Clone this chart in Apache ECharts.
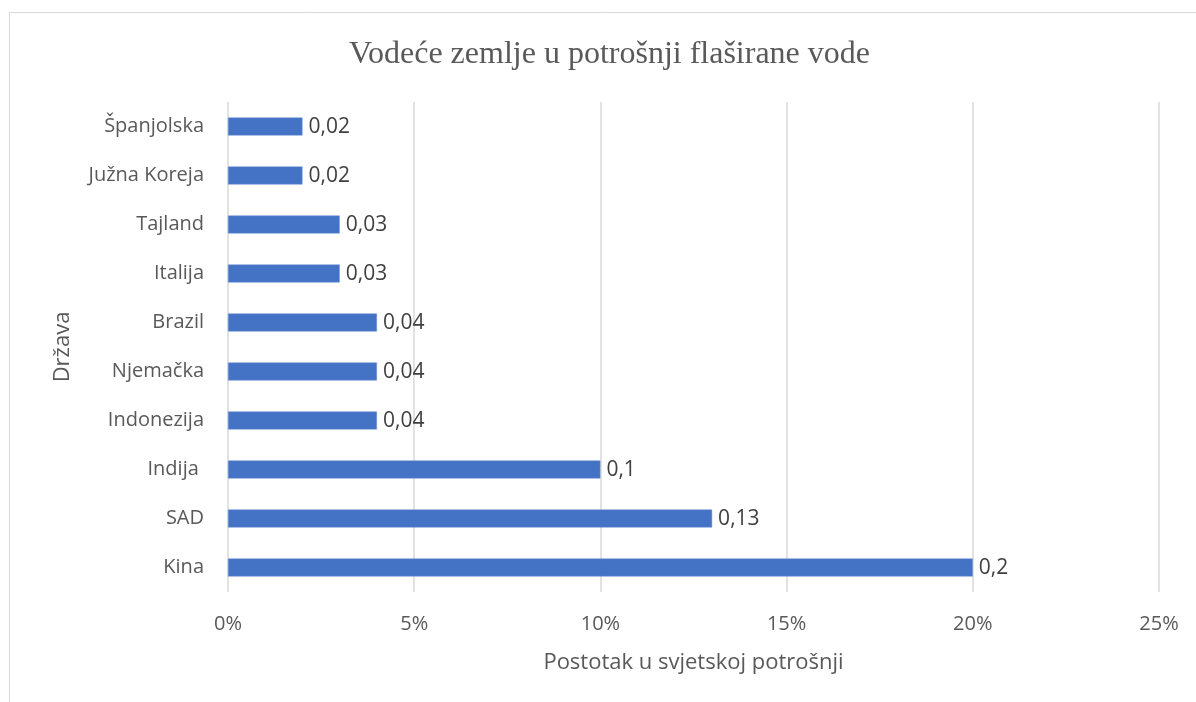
<!DOCTYPE html>
<html>
<head>
<meta charset="utf-8">
<script src="https://cdn.jsdelivr.net/npm/echarts@6/dist/echarts.min.js"></script>
<style>
  html, body { margin: 0; padding: 0; background: #fff; }
  #chart { width: 1196px; height: 702px; }
</style>
</head>
<body>
<div id="chart"></div>
<script>
// podaci s grafikona (odozdo prema gore)
var drzave = ['Kina', 'SAD', 'Indija ', 'Indonezija', 'Njemačka', 'Brazil', 'Italija', 'Tajland', 'Južna Koreja', 'Španjolska'];
var udio = [0.2, 0.13, 0.1, 0.04, 0.04, 0.04, 0.03, 0.03, 0.02, 0.02];

var font = '"Open Sans", sans-serif';
var myChart = echarts.init(document.getElementById('chart'));
var option;
option = {
  animation: false,
  graphic: [{
    type: 'rect',
    shape: { x: 9.5, y: 12.5, width: 1300, height: 800 },
    style: { fill: 'none', stroke: '#d9d9d9', lineWidth: 1 },
    silent: true
  }],
  title: {
    text: 'Vodeće zemlje u potrošnji flaširane vode',
    left: 344,
    top: 34,
    textStyle: {
      fontFamily: '"Liberation Serif", "Times New Roman", serif',
      fontSize: 32,
      fontWeight: 'normal',
      color: '#595959'
    }
  },
  grid: {
    left: 228,
    right: 37,
    top: 102,
    bottom: 110
  },
  xAxis: {
    type: 'value',
    min: 0,
    max: 0.25,
    interval: 0.05,
    name: 'Postotak u svjetskoj potrošnji',
    nameLocation: 'middle',
    nameGap: 60,
    nameTextStyle: { fontFamily: font, fontSize: 22, color: '#595959' },
    axisLine: { show: false },
    axisTick: { show: false },
    axisLabel: {
      margin: 22,
      fontFamily: font,
      fontSize: 20,
      color: '#595959',
      formatter: function (v) { return Math.round(v * 100) + '%'; }
    },
    splitLine: { show: true, lineStyle: { color: '#d9d9d9', width: 1.5 } }
  },
  yAxis: {
    type: 'category',
    data: drzave,
    name: 'Država',
    nameLocation: 'middle',
    nameGap: 154,
    nameRotate: 90,
    nameTextStyle: { fontFamily: font, fontSize: 22, color: '#595959' },
    axisLine: { show: false },
    axisTick: { show: false },
    axisLabel: {
      margin: 24,
      fontFamily: font,
      fontSize: 20,
      color: '#595959'
    }
  },
  series: [{
    type: 'bar',
    data: udio,
    barWidth: 18,
    itemStyle: { color: '#4472C4', borderColor: '#6f93d3', borderWidth: 0.5 },
    label: {
      show: true,
      position: 'right',
      distance: 6,
      offset: [0, 1],
      fontFamily: font,
      fontSize: 21,
      color: '#404040',
      formatter: function (p) { return String(p.value).replace('.', ','); }
    }
  }]
};
option && myChart.setOption(option);
</script>
</body>
</html>
